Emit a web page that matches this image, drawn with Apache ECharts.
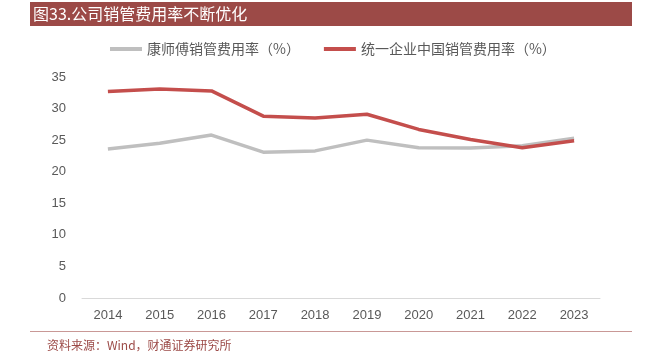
<!DOCTYPE html>
<html><head><meta charset="utf-8">
<script src="https://cdn.jsdelivr.net/npm/echarts@6/dist/echarts.min.js"></script>
<style>html,body{margin:0;padding:0;background:#fff}#c{width:648px;height:355px}</style>
</head><body><div id="c"></div>
<script>
var years = ['2014','2015','2016','2017','2018','2019','2020','2021','2022','2023'];
var ksfRate = [23.6, 24.5, 25.8, 23.1, 23.3, 25.0, 23.8, 23.75, 24.1, 25.3];
var tyRate = [32.7, 33.1, 32.8, 28.8, 28.5, 29.1, 26.7, 25.1, 23.8, 24.9];
var seriesNames = ['康师傅销管费用率（%）', '统一企业中国销管费用率（%）'];
var titleText = '图33.公司销管费用率不断优化';
var sourceText = '资料来源：Wind，财通证券研究所';

var chart = echarts.init(document.getElementById('c'), null, {renderer: 'canvas'});
var font = '"Noto Sans CJK SC", "Noto Sans", sans-serif';
chart.setOption({
  animation: false,
  textStyle: {fontFamily: font},
  grid: {left: 82, right: 48, top: 77, bottom: 57, containLabel: false},
  legend: {
    left: 105, top: 37, itemWidth: 32, itemHeight: 4, itemGap: 24, icon: 'rect',
    textStyle: {color: '#595959', fontSize: 14, fontFamily: font},
    data: seriesNames
  },
  xAxis: {
    type: 'category', data: years, boundaryGap: true,
    axisLine: {lineStyle: {color: '#d9d9d9', width: 1}},
    axisTick: {show: false},
    axisLabel: {color: '#595959', fontSize: 13, margin: 11, fontFamily: 'Arial, "Liberation Sans", sans-serif'}
  },
  yAxis: {
    type: 'value', min: 0, max: 35, interval: 5,
    axisLine: {show: false}, axisTick: {show: false},
    splitLine: {show: false},
    axisLabel: {color: '#595959', fontSize: 13, margin: 16, fontFamily: 'Arial, "Liberation Sans", sans-serif'}
  },
  series: [
    {name: seriesNames[0], type: 'line', data: ksfRate, symbol: 'none', smooth: false,
     lineStyle: {color: '#bfbfbf', width: 3.5}, itemStyle: {color: '#bfbfbf'}},
    {name: seriesNames[1], type: 'line', data: tyRate, symbol: 'none', smooth: false,
     lineStyle: {color: '#c44e4c', width: 3.5}, itemStyle: {color: '#c44e4c'}}
  ],
  graphic: [
    {type: 'rect', shape: {x: 30, y: 2, width: 602, height: 24}, style: {fill: '#9c4a47'}, z: -1},
    {type: 'text', x: 33, y: 14, style: {text: titleText, fill: '#ffffff', fontSize: 16, fontFamily: font, textVerticalAlign: 'middle', verticalAlign: 'middle'}},
    {type: 'rect', shape: {x: 30, y: 331, width: 602, height: 1}, style: {fill: '#c99896'}},
    {type: 'text', x: 47, y: 345, style: {text: sourceText, fill: '#9c4a47', fontSize: 12, fontFamily: font, textVerticalAlign: 'middle', verticalAlign: 'middle'}}
  ]
});
</script></body></html>
